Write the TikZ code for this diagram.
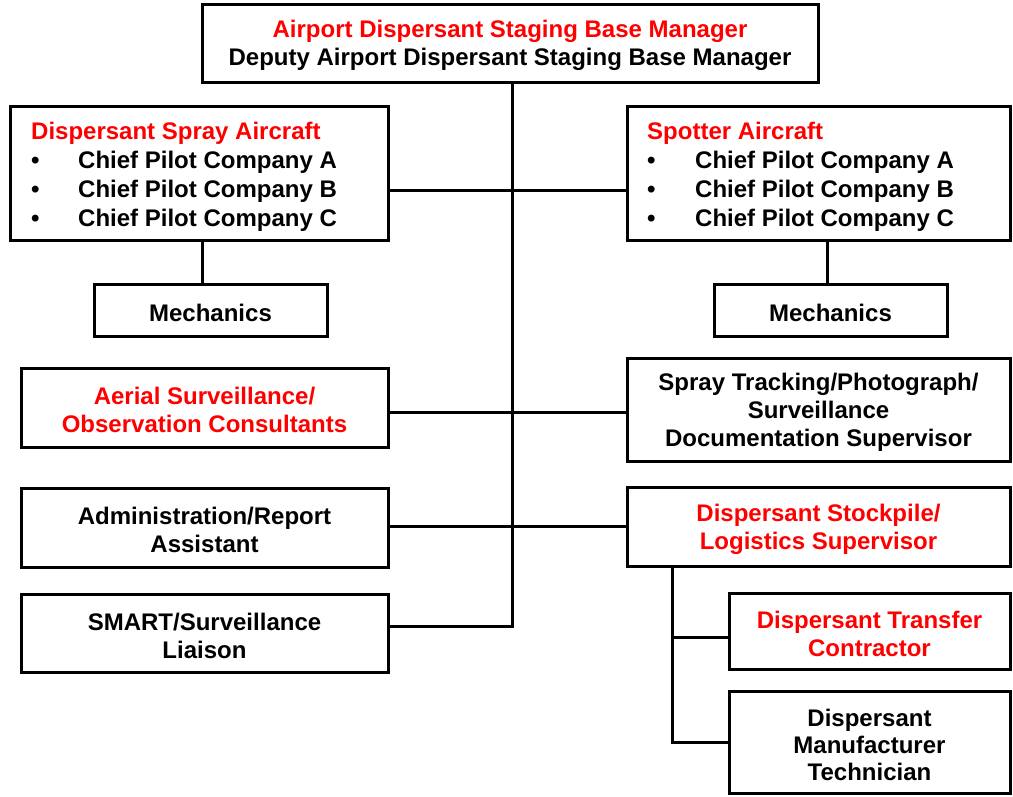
\documentclass[tikz,border=0pt]{standalone}
\usepackage{fontspec}
\setmainfont{Liberation Sans}
\begin{document}
\begin{tikzpicture}[x=1pt,y=-1pt,
  box/.style={draw,line width=3pt,rectangle,inner sep=0pt,outer sep=0pt},
  ctext/.style={inner sep=0pt,align=center,yshift=-2.5pt,font=\fontsize{24}{28}\selectfont\bfseries},
  txt/.style={inner sep=0pt,align=left,anchor=west,font=\fontsize{24}{29}\selectfont\bfseries},
  conn/.style={line width=3pt,line join=miter}]
\useasboundingbox (0,0) rectangle (1013,796);
% boxes
\node[box,minimum width=616pt,minimum height=78pt] (top) at (510,43) {};
\node[ctext] (topT) at (top.center)
  {\textcolor{red}{Airport Dispersant Staging Base Manager}\\Deputy Airport Dispersant Staging Base Manager};
\node[box,minimum width=378pt,minimum height=134pt] (spray) at (199,173) {};
\node[txt] (sprayT) at (31,176.5) {\textcolor{red}{Dispersant Spray Aircraft}\\
  \makebox[47pt][l]{\textbullet}Chief Pilot Company A\\
  \makebox[47pt][l]{\textbullet}Chief Pilot Company B\\
  \makebox[47pt][l]{\textbullet}Chief Pilot Company C};
\node[box,minimum width=383pt,minimum height=134pt] (spot) at (818.5,173) {};
\node[txt] (spotT) at (647,176.5) {\textcolor{red}{Spotter Aircraft}\\
  \makebox[48pt][l]{\textbullet}Chief Pilot Company A\\
  \makebox[48pt][l]{\textbullet}Chief Pilot Company B\\
  \makebox[48pt][l]{\textbullet}Chief Pilot Company C};
\node[box,minimum width=233pt,minimum height=52pt] (mechL) at (210.5,310) {};
\node[ctext] (mechLT) at (mechL.center) {Mechanics};
\node[box,minimum width=233pt,minimum height=52pt] (mechR) at (830.5,310) {};
\node[ctext] (mechRT) at (mechR.center) {Mechanics};
\node[box,minimum width=367pt,minimum height=79pt] (aerial) at (204.5,407.5) {};
\node[ctext] (aerialT) at (aerial.center)
  {\textcolor{red}{Aerial Surveillance/}\\\textcolor{red}{Observation Consultants}};
\node[box,minimum width=383pt,minimum height=103pt] (track) at (818.5,409.5) {};
\node[ctext] (trackT) at (track.center)
  {Spray Tracking/Photograph/\\Surveillance\\Documentation Supervisor};
\node[box,minimum width=367pt,minimum height=79pt] (admin) at (204.5,527.5) {};
\node[ctext] (adminT) at (admin.center) {Administration/Report\\Assistant};
\node[box,minimum width=383pt,minimum height=79pt] (stock) at (818.5,526.5) {};
\node[ctext] (stockT) at (stock.center)
  {\textcolor{red}{Dispersant Stockpile/}\\\textcolor{red}{Logistics Supervisor}};
\node[box,minimum width=367pt,minimum height=78pt] (smart) at (204.5,633) {};
\node[ctext] (smartT) at (smart.center) {SMART/Surveillance\\Liaison};
\node[box,minimum width=281pt,minimum height=76pt] (transfer) at (869.5,631) {};
\node[ctext] (transferT) at (transfer.center)
  {\textcolor{red}{Dispersant Transfer}\\\textcolor{red}{Contractor}};
\node[box,minimum width=281pt,minimum height=102pt] (manu) at (869.5,742) {};
\node[ctext,font=\fontsize{24}{27}\selectfont\bfseries] (manuT) at (manu.center)
  {Dispersant\\Manufacturer\\Technician};
% junction coordinates
\coordinate (spineend) at (512,626);
\coordinate (h1) at (512,190);
\coordinate (h2) at (512,412);
\coordinate (h3) at (512,526);
\coordinate (vl) at (202,260);
\coordinate (vr) at (827,260);
\coordinate (sb) at (672,742);
\coordinate (tb) at (672,637);
% connectors
\draw[conn] (top.south -| spineend) -- (spineend) -- (smart.east |- spineend);
\draw[conn] (spray.east |- h1) -- (spot.west |- h1);
\draw[conn] (aerial.east |- h2) -- (track.west |- h2);
\draw[conn] (admin.east |- h3) -- (stock.west |- h3);
\draw[conn] (spray.south -| vl) -- (mechL.north -| vl);
\draw[conn] (spot.south -| vr) -- (mechR.north -| vr);
\draw[conn] (stock.south -| sb) -- (sb) -- (manu.west |- sb);
\draw[conn] (tb) -- (transfer.west |- tb);
\end{tikzpicture}
\end{document}
